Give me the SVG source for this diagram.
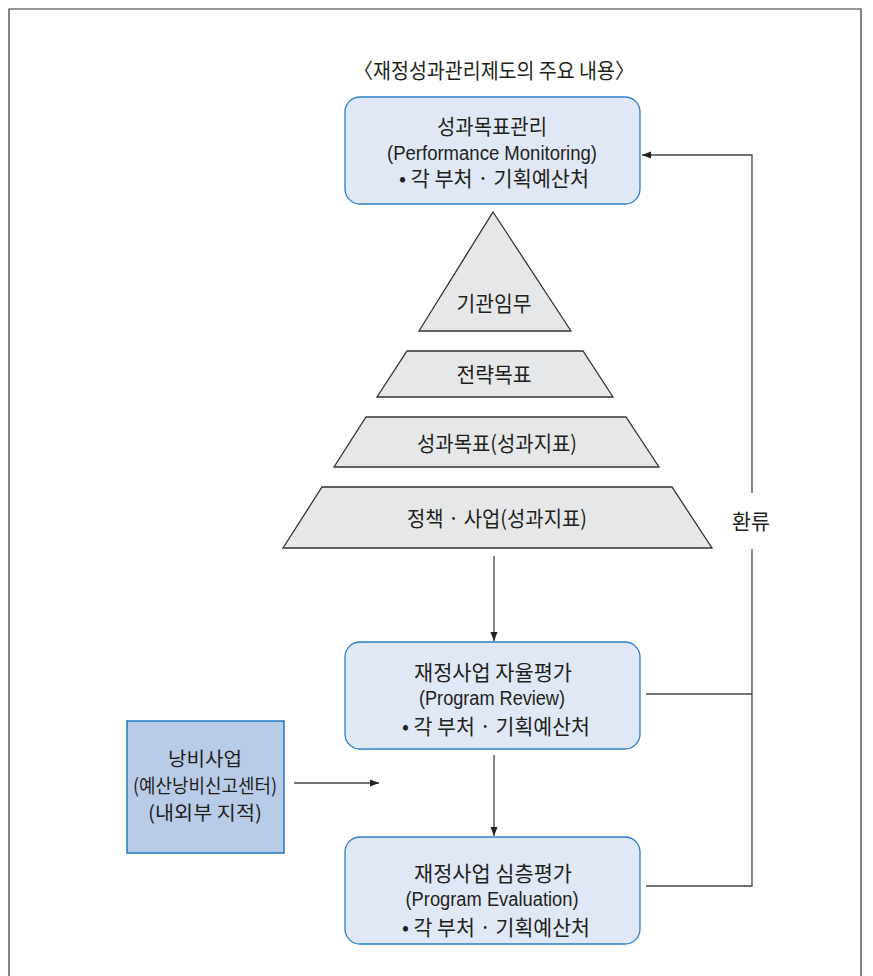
<svg xmlns="http://www.w3.org/2000/svg" width="873" height="976" viewBox="0 0 873 976">
<style>
  .kr { font-family: "Noto Sans CJK KR", "Noto Sans", sans-serif; font-size: 21px; fill: #231f20; text-anchor: middle; }
  .kr2 { font-family: "Noto Sans CJK KR", "Noto Sans", sans-serif; font-size: 19.5px; fill: #231f20; text-anchor: middle; }
  .en { font-family: "Liberation Sans", Arial, sans-serif; font-size: 20px; fill: #231f20; text-anchor: middle; }
  .box { fill: #dfe8f4; stroke: #2a7fc8; stroke-width: 1.3; }
  .waste { fill: #b8cce8; stroke: #1f78c8; stroke-width: 1.5; }
  .pyr { fill: #e6e7e8; stroke: #333333; stroke-width: 1.3; }
  .conn { fill: none; stroke: #444444; stroke-width: 1.3; }
</style>
<defs>
  <marker id="arr" markerWidth="10" markerHeight="8" refX="9" refY="4" orient="auto" markerUnits="userSpaceOnUse">
    <path d="M0,0.5 L9,4 L0,7.5 Z" fill="#222222"/>
  </marker>
</defs>
<rect x="0" y="0" width="873" height="976" fill="#ffffff"/>
<path d="M9,976 V9 H861 V976" fill="none" stroke="#333333" stroke-width="1.2"/>
<text class="kr" x="494" y="78" textLength="281" lengthAdjust="spacingAndGlyphs">〈재정성과관리제도의 주요 내용〉</text>

<g id="connectors">
  <line class="conn" x1="494" y1="556" x2="494" y2="641" marker-end="url(#arr)"/>
  <line class="conn" x1="494" y1="755" x2="494" y2="836" marker-end="url(#arr)"/>
  <line class="conn" x1="294" y1="783" x2="379" y2="783" marker-end="url(#arr)"/>
  <path class="conn" d="M646,694 H752"/>
  <path class="conn" d="M646,886 H752 V549"/>
  <path class="conn" d="M752,493 V155 H642" marker-end="url(#arr)"/>
  <text class="kr" x="751" y="529" textLength="38" lengthAdjust="spacingAndGlyphs">환류</text>
</g>

<g id="node-monitoring">
  <rect class="box" x="345" y="97" width="295" height="107" rx="15"/>
  <text class="kr" x="492" y="134" textLength="110" lengthAdjust="spacingAndGlyphs">성과목표관리</text>
  <text class="en" x="492" y="160" textLength="210" lengthAdjust="spacingAndGlyphs">(Performance Monitoring)</text>
  <text class="kr" x="494" y="186" textLength="190" lengthAdjust="spacingAndGlyphs">• 각 부처 · 기획예산처</text>
</g>

<g id="node-mission">
  <polygon class="pyr" points="493,212 571,331 419,331"/>
  <text class="kr" x="494" y="311" textLength="75" lengthAdjust="spacingAndGlyphs">기관임무</text>
</g>
<g id="node-strategy">
  <polygon class="pyr" points="407,351 583,351 613,397 377,397"/>
  <text class="kr" x="494" y="382" textLength="75" lengthAdjust="spacingAndGlyphs">전략목표</text>
</g>
<g id="node-goal">
  <polygon class="pyr" points="366,417 626,417 659,467 334,467"/>
  <text class="kr" x="497" y="451" textLength="160" lengthAdjust="spacingAndGlyphs">성과목표(성과지표)</text>
</g>
<g id="node-policy">
  <polygon class="pyr" points="322,487 672,487 712,548 283,548"/>
  <text class="kr" x="497" y="526" textLength="180" lengthAdjust="spacingAndGlyphs">정책 · 사업(성과지표)</text>
</g>

<g id="node-review">
  <rect class="box" x="345" y="642" width="295" height="107" rx="15"/>
  <text class="kr" x="493" y="680" textLength="158" lengthAdjust="spacingAndGlyphs">재정사업 자율평가</text>
  <text class="en" x="492" y="705" textLength="146" lengthAdjust="spacingAndGlyphs">(Program Review)</text>
  <text class="kr" x="496" y="734" textLength="188" lengthAdjust="spacingAndGlyphs">• 각 부처 · 기획예산처</text>
</g>

<g id="node-evaluation">
  <rect class="box" x="345" y="837" width="295" height="107" rx="15"/>
  <text class="kr" x="493" y="881" textLength="158" lengthAdjust="spacingAndGlyphs">재정사업 심층평가</text>
  <text class="en" x="492" y="906" textLength="173" lengthAdjust="spacingAndGlyphs">(Program Evaluation)</text>
  <text class="kr" x="496" y="935" textLength="188" lengthAdjust="spacingAndGlyphs">• 각 부처 · 기획예산처</text>
</g>

<g id="node-waste">
  <rect class="waste" x="127" y="721" width="157" height="132"/>
  <text class="kr2" x="205" y="766" textLength="74" lengthAdjust="spacingAndGlyphs">낭비사업</text>
  <text class="kr2" x="205" y="793" textLength="144" lengthAdjust="spacingAndGlyphs">(예산낭비신고센터)</text>
  <text class="kr2" x="205" y="820" textLength="114" lengthAdjust="spacingAndGlyphs">(내외부 지적)</text>
</g>
</svg>
